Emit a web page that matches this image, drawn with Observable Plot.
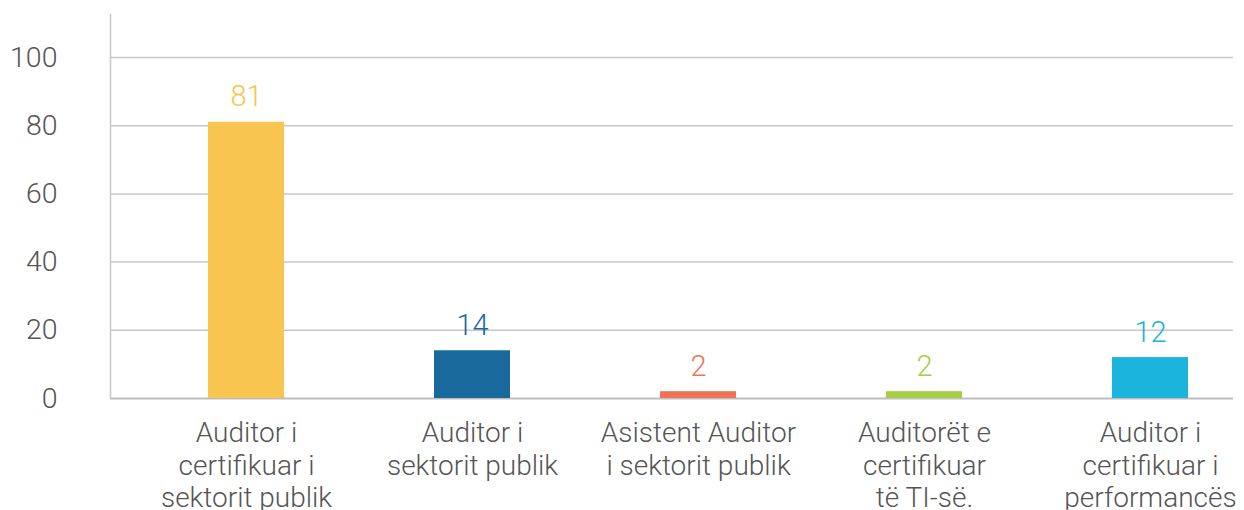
<!DOCTYPE html>
<html>
<head>
<meta charset="utf-8">
<script src="https://cdn.jsdelivr.net/npm/d3@7"></script>
<script src="https://cdn.jsdelivr.net/npm/@observablehq/plot@0.6"></script>
<style>
  html, body { margin: 0; padding: 0; background: #fff; }
  #chart svg { font-family: Roboto, "Noto Sans", sans-serif; font-weight: 300; }
</style>
</head>
<body>
<div id="chart"></div>
<script>
const categories = [
  "Auditor i\ncertifikuar i\nsektorit publik",
  "Auditor i\nsektorit publik",
  "Asistent Auditor\ni sektorit publik",
  "Auditorët e\ncertifikuar\ntë TI-së.",
  "Auditor i\ncertifikuar i\nperformancës"
];
const values = [81, 14, 2, 2, 12];
const colors = ["#F8C550", "#1A699C", "#F07355", "#A5CD45", "#1AB4DC"];
const yTicks = [0, 20, 40, 60, 80, 100];

const data = categories.map((c, i) => ({category: c, value: values[i], color: colors[i]}));

const chart = Plot.plot({
  width: 1244,
  height: 510,
  marginLeft: 110,
  marginRight: 11,
  marginTop: 14,
  marginBottom: 112,
  x: {domain: categories, range: [131, 1265], paddingInner: 0.665, paddingOuter: 0.3325},
  y: {domain: [0, 112.6]},
  marks: [
    Plot.gridY(yTicks.slice(1), {stroke: "#c8c8c8", strokeOpacity: 1, strokeWidth: 1.5}),
    Plot.frame({anchor: "left", stroke: "#c8c8c8", strokeWidth: 1.5}),
    Plot.ruleY([0], {stroke: "#bdbdbd", strokeWidth: 2}),
    Plot.barY(data, {x: "category", y: "value", fill: "color"}),
    Plot.text(data, {x: "category", y: "value", text: d => String(d.value), fill: "color",
      lineAnchor: "bottom", dy: -16, fontSize: 29, fontWeight: 300}),
    Plot.axisY({ticks: yTicks, tickSize: 0, tickPadding: 53, fontSize: 28.5, fill: "#555", label: null}),
    Plot.axisX({tickSize: 0, tickPadding: 20, fontSize: 28, fill: "#555", label: null,
      lineAnchor: "top", lineHeight: 1.17})
  ]
});
document.getElementById("chart").appendChild(chart);
</script>
</body>
</html>
